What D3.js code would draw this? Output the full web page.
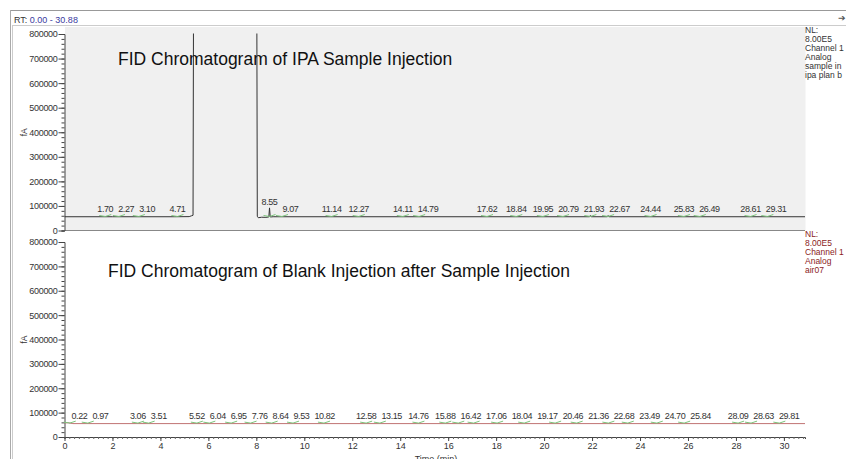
<!DOCTYPE html>
<html>
<head>
<meta charset="utf-8">
<script src="https://cdn.jsdelivr.net/npm/d3@7"></script>
<style>
  body { margin: 0; background: #fff; }
  svg { display: block; font-family: "Liberation Sans", Arial, sans-serif; }
</style>
</head>
<body>
<svg id="chart" width="846" height="459"></svg>
<script>
// retention time range (min)
const rtRange = [0, 30.88];

// sample trace (IPA injection), hand
const sampleTime   = [0, 2.0, 4.6, 5.20, 5.30, 5.36, 5.38, 8.02, 8.04, 8.08, 8.22, 8.40, 8.52, 8.55, 8.58, 8.70, 21.90, 21.93, 21.96, 22.64, 22.67, 22.70, 30.88];
const sampleSignal = [56000, 56000, 56000, 56500, 60000, 62000, 900000, 900000, 58000, 52000, 54000, 53500, 55000, 92000, 55000, 56000, 56000, 61000, 56000, 56000, 61000, 56000, 56000];

// blank trace (air07)
const blankTime   = [0, 0.15, 0.35, 30.88];
const blankSignal = [57500, 58500, 55000, 55000];

// integrated peak labels
const samplePeaks = [1.70, 2.27, 3.10, 4.71, 8.55, 9.07, 11.14, 12.27, 14.11, 14.79, 17.62, 18.84, 19.95, 20.79, 21.93, 22.67, 24.44, 25.83, 26.49, 28.61, 29.31];
const blankPeaks  = [0.22, 0.97, 3.06, 3.51, 5.52, 6.04, 6.95, 7.76, 8.64, 9.53, 10.82, 12.58, 13.15, 14.76, 15.88, 16.42, 17.06, 18.04, 19.17, 20.46, 21.36, 22.68, 23.49, 24.70, 25.84, 28.09, 28.63, 29.81];

const yTicks = [0, 100000, 200000, 300000, 400000, 500000, 600000, 700000, 800000];
const xTicks = [0, 2, 4, 6, 8, 10, 12, 14, 16, 18, 20, 22, 24, 26, 28, 30];

const sampleInfo = ["NL:", "8.00E5", "Channel 1", "Analog", "sample in", "ipa plan b"];
const blankInfo  = ["NL:", "8.00E5", "Channel 1", "Analog", "air07"];

const svg = d3.select("#chart");

const x = d3.scaleLinear().domain(rtRange).range([64.5, 805]);

const panels = [
  { y: d3.scaleLinear().domain([0, 800000]).range([230.5, 34]), top: 27,
    bg: "#f0f0f0", time: sampleTime, signal: sampleSignal, peaks: samplePeaks,
    color: "#333", info: sampleInfo, infoColor: "#333", infoTop: 33,
    title: "FID Chromatogram of IPA Sample Injection", titleX: 118, titleY: 65, xAxis: false },
  { y: d3.scaleLinear().domain([0, 800000]).range([437, 242]), top: 236,
    bg: "#fff", time: blankTime, signal: blankSignal, peaks: blankPeaks,
    color: "#c07373", info: blankInfo, infoColor: "#8b1c1c", infoTop: 237,
    title: "FID Chromatogram of Blank Injection after Sample Injection", titleX: 108, titleY: 277, xAxis: true }
];

// outer frame
svg.append("line").attr("x1", 10).attr("x2", 846).attr("y1", 10.5).attr("y2", 10.5).attr("stroke", "#999");
svg.append("line").attr("x1", 10.5).attr("x2", 10.5).attr("y1", 10).attr("y2", 459).attr("stroke", "#aaa");
svg.append("line").attr("x1", 12.5).attr("x2", 12.5).attr("y1", 26).attr("y2", 459).attr("stroke", "#ccc");
svg.append("line").attr("x1", 12).attr("x2", 846).attr("y1", 25.5).attr("y2", 25.5).attr("stroke", "#ccc");

const rt = svg.append("text").attr("x", 14).attr("y", 23).attr("font-size", 9).attr("fill", "#333");
rt.append("tspan").text("RT: ");
rt.append("tspan").attr("fill", "#3a3aa0").text("0.00 - 30.88");

svg.append("text").attr("x", 838).attr("y", 21).attr("font-size", 9).attr("fill", "#555").text("➔");

panels.forEach((p, k) => {
  const y = p.y;
  const clipId = "clip" + k;
  svg.append("clipPath").attr("id", clipId)
    .append("rect")
    .attr("x", x.range()[0]).attr("y", y(800000) - 0.5)
    .attr("width", x.range()[1] - x.range()[0]).attr("height", y(0) - y(800000) + 1);

  svg.append("rect")
    .attr("x", x.range()[0] + 0.5).attr("y", p.top)
    .attr("width", x.range()[1] - x.range()[0]).attr("height", y(0) - p.top)
    .attr("fill", p.bg);

  if (!p.xAxis) {
    svg.append("line")
      .attr("x1", x.range()[0]).attr("x2", x.range()[1])
      .attr("y1", y(0)).attr("y2", y(0))
      .attr("stroke", "#888");
  }

  // y axis with minor ticks
  const yMinor = d3.range(0, 800001, 20000);
  const ga = svg.append("g").attr("transform", `translate(${x.range()[0]},0)`);
  ga.call(d3.axisLeft(y).tickValues(yMinor).tickSize(3).tickFormat(""))
    .call(g => g.selectAll("line").attr("stroke", "#444"))
    .call(g => g.select(".domain").attr("stroke", "#444"));
  ga.append("g").call(d3.axisLeft(y).tickValues(yTicks).tickSize(6).tickPadding(1).tickFormat(d3.format("d")))
    .call(g => g.select(".domain").remove())
    .call(g => g.selectAll("line").attr("stroke", "#444"))
    .call(g => g.selectAll("text")
      .attr("font-family", "Liberation Sans, Arial, sans-serif")
      .attr("font-size", 9).attr("letter-spacing", "-0.3px").attr("fill", "#333"));

  svg.append("text")
    .attr("transform", `translate(27,${y(400000)}) rotate(-90)`)
    .attr("text-anchor", "middle")
    .attr("font-size", 8.5).attr("fill", "#333")
    .text("fA");

  // trace
  const pts = p.time.map((t, i) => [t, p.signal[i]]);
  svg.append("path")
    .attr("clip-path", `url(#${clipId})`)
    .attr("d", d3.line().x(d => x(d[0])).y(d => y(d[1]))(pts))
    .attr("fill", "none").attr("stroke", p.color).attr("stroke-width", 1);

  // peak labels and integration marks
  const base = y(55000);
  svg.append("g").selectAll("path").data(p.peaks).join("path")
    .attr("d", d => `M${x(d) - 6},${base - 1.5} Q${x(d)},${base + 1} ${x(d) + 6},${base - 2.5}`)
    .attr("fill", "none").attr("stroke", "#7cc47c").attr("stroke-width", 1);

  // label sits above the apex when the peak is visible
  const apexY = rtv => {
    const near = d3.least(pts, d => Math.abs(d[0] - rtv));
    return Math.abs(near[0] - rtv) < 0.02 ? y(near[1]) : base;
  };

  const labels = svg.append("g").selectAll("text").data(p.peaks).join("text")
    .attr("y", d => Math.min(base - 5, apexY(d) - 3))
    .attr("font-size", 9).attr("letter-spacing", "-0.4px").attr("fill", "#333")
    .text(d => d3.format(".2f")(d));

  let prevRight = x.range()[0] + 2;
  labels.each(function (d) {
    const w = this.getComputedTextLength();
    let left = x(d) - w / 2;
    if (left < prevRight + 5) left = prevRight + 5;
    d3.select(this).attr("x", left);
    prevRight = left + w;
  });

  // title
  svg.append("text")
    .attr("x", p.titleX).attr("y", p.titleY)
    .attr("font-size", 17.5).attr("fill", "#111")
    .text(p.title);

  // info block on the right
  svg.append("g").selectAll("text").data(p.info).join("text")
    .attr("x", 805).attr("y", (d, i) => p.infoTop + i * 9)
    .attr("font-size", 8.5).attr("fill", p.infoColor)
    .text(d => d);

  if (p.xAxis) {
    const gx = svg.append("g").attr("transform", `translate(0,${y(0)})`);
    gx.call(d3.axisBottom(x).tickValues(d3.range(0, 30.9, 0.2)).tickSize(2).tickFormat(""))
      .call(g => g.selectAll("line").attr("stroke", "#666"))
      .call(g => g.select(".domain").attr("stroke", "#444"));
    gx.append("g").call(d3.axisBottom(x).tickValues(xTicks).tickSize(4).tickPadding(2))
      .call(g => g.select(".domain").remove())
      .call(g => g.selectAll("line").attr("stroke", "#444"))
      .call(g => g.selectAll("text")
        .attr("font-family", "Liberation Sans, Arial, sans-serif")
        .attr("font-size", 9).attr("fill", "#333"));

    svg.append("text")
      .attr("x", 436).attr("y", 462)
      .attr("text-anchor", "middle")
      .attr("font-size", 9).attr("fill", "#333")
      .text("Time (min)");
  }
});
</script>
</body>
</html>
